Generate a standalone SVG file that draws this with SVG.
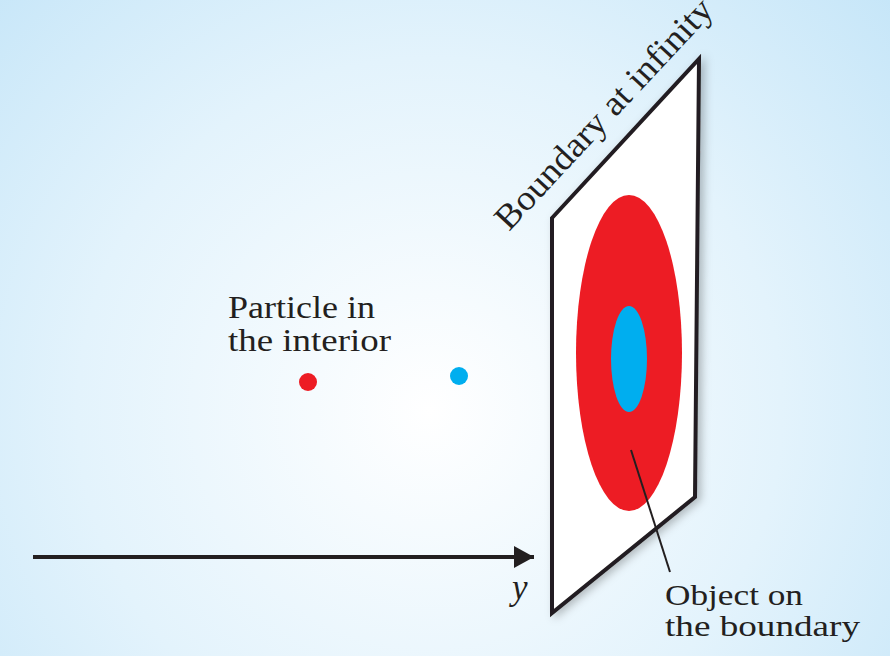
<svg xmlns="http://www.w3.org/2000/svg" width="890" height="656" viewBox="0 0 890 656">
  <defs>
    <radialGradient id="bg" cx="430" cy="410" r="640" gradientUnits="userSpaceOnUse">
      <stop offset="0" stop-color="#ffffff"/>
      <stop offset="0.55" stop-color="#e3f3fc"/>
      <stop offset="1" stop-color="#c4e5f8"/>
    </radialGradient>
    <filter id="shadow" x="-20%" y="-10%" width="140%" height="120%">
      <feDropShadow dx="4" dy="2" stdDeviation="4" flood-color="#000000" flood-opacity="0.25"/>
    </filter>
    <marker id="arrowhead" markerUnits="userSpaceOnUse" markerWidth="22" markerHeight="24" refX="20" refY="11" orient="auto">
      <path d="M0,0 L20,11 L0,22 Z" fill="#231f20"/>
    </marker>
    <style>
      .lbl { font-family: "Liberation Serif", "Times New Roman", serif; font-size: 32px; fill: #231f20; }
      .big { font-size: 35px; }
      .sm { font-size: 30px; }
      .ital { font-style: italic; }
      .edge { fill: #ffffff; stroke: #231f20; stroke-width: 4; stroke-linejoin: miter; }
      .conn { fill: none; stroke: #231f20; }
    </style>
  </defs>

  <rect id="background" x="0" y="0" width="890" height="656" fill="url(#bg)"/>

  <g id="boundary-plane">
    <polygon class="edge" points="552,218 699,59 695,497 552,613" filter="url(#shadow)"/>
    <ellipse cx="629" cy="353" rx="53" ry="158" fill="#ed1c24"/>
    <ellipse cx="629" cy="359" rx="18" ry="53" fill="#00aeef"/>
    <text class="lbl big" transform="translate(509,232) rotate(-47)" textLength="302" lengthAdjust="spacingAndGlyphs">Boundary at infinity</text>
  </g>

  <g id="particle-red">
    <circle cx="308" cy="382" r="9" fill="#ed1c24"/>
  </g>
  <g id="particle-blue">
    <circle cx="459" cy="376" r="9" fill="#00aeef"/>
  </g>

  <g id="label-particle">
    <text class="lbl" x="228" y="318" textLength="147" lengthAdjust="spacingAndGlyphs">Particle in</text>
    <text class="lbl" x="228" y="351" textLength="163" lengthAdjust="spacingAndGlyphs">the interior</text>
  </g>

  <g id="label-object">
    <text class="lbl sm" x="665" y="605" textLength="138" lengthAdjust="spacingAndGlyphs">Object on</text>
    <text class="lbl sm" x="665" y="636" textLength="195" lengthAdjust="spacingAndGlyphs">the boundary</text>
  </g>

  <g id="label-y">
    <text class="lbl big ital" x="512" y="599">y</text>
  </g>

  <g id="connectors">
    <line class="conn" x1="33" y1="557" x2="534" y2="557" stroke-width="4" marker-end="url(#arrowhead)"/>
    <line class="conn" x1="631" y1="450" x2="670" y2="572" stroke-width="2"/>
  </g>
</svg>
